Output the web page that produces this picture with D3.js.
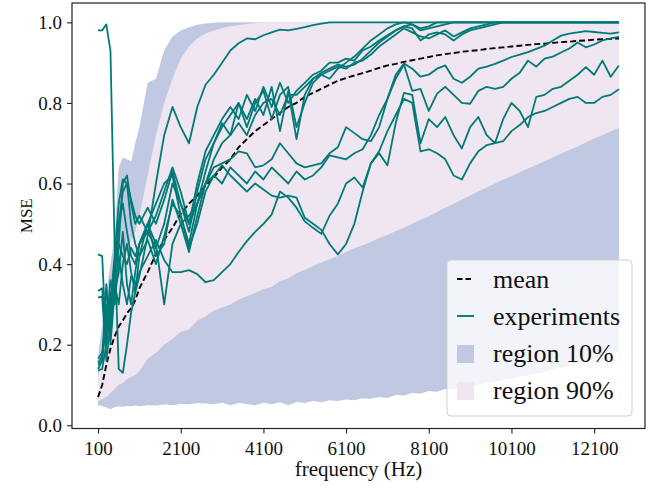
<!DOCTYPE html>
<html>
<head>
<meta charset="utf-8">
<script src="https://cdn.jsdelivr.net/npm/d3@7"></script>
<style>
body{margin:0;background:#fff}
text{font-family:"Liberation Serif","DejaVu Serif",serif;fill:#111}
</style>
</head>
<body>
<div id="chart"></div>
<script>
// frequency grid (Hz): 100 Hz steps at the start, 200 Hz after
const freqs = d3.range(100, 1200, 100).concat(d3.range(1300, 12800, 200));
const xTicks = d3.range(100, 12200, 2000);
const yTicks = [0, 0.2, 0.4, 0.6, 0.8, 1.0];
const legendLabels = ['mean', 'experiments', 'region 10%', 'region 90%'];

const meanMSE = [0.07,0.1,0.15,0.19,0.22,0.245,0.26,0.278,0.29,0.31,0.34,
 0.38,0.425,0.46,0.49,0.525,0.55,0.57,0.595,0.615,0.64,
 0.66,0.69,0.71,0.73,0.745,0.76,0.775,0.79,0.80,0.815,
 0.825,0.835,0.845,0.855,0.862,0.868,0.874,0.88,0.887,0.893,
 0.897,0.902,0.906,0.91,0.914,0.918,0.921,0.924,0.927,0.929,
 0.931,0.934,0.936,0.938,0.94,0.942,0.944,0.946,0.947,0.949,
 0.951,0.952,0.954,0.955,0.957,0.958,0.959,0.96];

const region10Low = [0.05,0.048,0.044,0.04,0.045,0.047,0.046,0.048,0.047,0.049,0.047,
 0.05,0.049,0.052,0.05,0.053,0.052,0.055,0.054,0.052,0.056,
 0.05,0.055,0.053,0.05,0.056,0.052,0.057,0.05,0.058,0.055,
 0.06,0.057,0.062,0.06,0.064,0.062,0.067,0.066,0.07,0.068,
 0.075,0.074,0.08,0.078,0.085,0.083,0.09,0.088,0.095,0.094,
 0.1,0.104,0.108,0.112,0.115,0.12,0.124,0.128,0.133,0.138,
 0.143,0.148,0.154,0.16,0.166,0.172,0.178,0.184];
const region10High = [0.17,0.25,0.33,0.4,0.47,0.64,0.665,0.66,0.655,0.7,0.74,
 0.85,0.86,0.93,0.965,0.98,0.988,0.994,0.997,0.999,1,
 1,1,1,1,1,1,1,1,1,1,
 1,1,1,1,1,1,1,1,1,1,
 1,1,1,1,1,1,1,1,1,1,
 1,1,1,1,1,1,1,1,1,1,
 1,1,1,1,1,1,1,1];
const region90Low = [0.06,0.065,0.07,0.08,0.09,0.1,0.105,0.115,0.12,0.125,0.135,
 0.165,0.18,0.2,0.215,0.232,0.238,0.26,0.27,0.285,0.292,
 0.3,0.312,0.32,0.328,0.338,0.343,0.358,0.364,0.377,0.386,
 0.395,0.404,0.412,0.42,0.43,0.44,0.447,0.455,0.465,0.472,
 0.482,0.49,0.5,0.51,0.518,0.53,0.54,0.55,0.56,0.57,
 0.58,0.59,0.6,0.61,0.618,0.628,0.637,0.646,0.655,0.665,
 0.674,0.683,0.692,0.702,0.712,0.72,0.73,0.738];
const region90High = [0.12,0.17,0.22,0.26,0.3,0.36,0.4,0.44,0.46,0.48,0.52,
 0.62,0.72,0.8,0.86,0.91,0.94,0.96,0.972,0.98,0.986,
 0.99,0.993,0.996,0.998,1,1,1,1,1,1,
 1,1,1,1,1,1,1,1,1,1,
 1,1,1,1,1,1,1,1,1,1,
 1,1,1,1,1,1,1,1,1,1,
 1,1,1,1,1,1,1,1];

const exp1 = [0.98,0.98,0.995,0.93,0.45,0.14,0.13,0.2,0.28,0.33,0.37,
 0.47,0.6,0.72,0.79,0.74,0.70,0.79,0.845,0.87,0.9,
 0.93,0.948,0.96,0.958,0.968,0.975,0.982,0.98,0.984,0.988,
 0.993,0.997,1,1,1,1,1,1,1,1,
 1,1,1,1,1,1,1,1,1,1,
 1,1,1,1,1,1,1,1,1,1,
 1,1,1,1,1,1,1,1];
const exp2 = [0.333,0.34,0.2,0.3,0.42,0.55,0.61,0.6,0.56,0.52,0.5,
 0.54,0.5,0.56,0.63,0.55,0.48,0.58,0.66,0.7,0.74,
 0.77,0.8,0.76,0.81,0.77,0.84,0.73,0.83,0.71,0.82,
 0.86,0.875,0.885,0.895,0.89,0.895,0.91,0.93,0.95,0.965,
 0.98,0.99,0.985,0.955,0.97,0.975,0.97,0.955,0.97,0.98,
 0.985,0.99,0.995,1,1,1,1,1,1,1,
 1,1,1,1,1,1,1,1];
const exp3 = [0.317,0.32,0.16,0.25,0.38,0.5,0.58,0.6,0.5,0.45,0.42,
 0.5,0.55,0.6,0.62,0.52,0.45,0.55,0.63,0.7,0.75,
 0.72,0.8,0.74,0.8,0.83,0.76,0.82,0.84,0.74,0.8,
 0.85,0.87,0.88,0.89,0.885,0.9,0.905,0.92,0.94,0.955,
 0.97,0.985,0.975,0.965,0.96,0.97,0.98,0.965,0.975,0.985,
 0.99,0.995,1,1,1,1,1,1,1,1,
 1,1,1,1,1,1,1,1];
const exp4 = [0.165,0.18,0.24,0.36,0.3,0.45,0.6,0.62,0.55,0.5,0.52,
 0.48,0.52,0.58,0.64,0.58,0.5,0.6,0.68,0.72,0.76,
 0.79,0.76,0.82,0.78,0.84,0.79,0.85,0.8,0.83,0.85,
 0.87,0.88,0.9,0.9,0.91,0.905,0.93,0.94,0.955,0.968,
 0.98,0.99,0.995,0.98,0.985,0.99,0.995,1,1,1,
 1,1,1,1,1,1,1,1,1,1,
 1,1,1,1,1,1,1,1];
const exp5 = [0.14,0.16,0.35,0.2,0.33,0.38,0.48,0.35,0.3,0.38,0.45,
 0.5,0.42,0.45,0.56,0.5,0.43,0.52,0.6,0.66,0.7,
 0.72,0.75,0.72,0.77,0.8,0.81,0.77,0.82,0.82,0.84,
 0.86,0.87,0.86,0.885,0.9,0.915,0.935,0.955,0.97,0.985,
 0.995,1,0.995,0.985,0.99,1,1,1,1,1,
 1,1,1,1,1,1,1,1,1,1,
 1,1,1,1,1,1,1,1];
const exp6 = [0.424,0.42,0.2,0.3,0.38,0.45,0.42,0.4,0.44,0.42,0.45,
 0.48,0.44,0.5,0.6,0.55,0.5,0.55,0.6,0.64,0.65,
 0.66,0.68,0.675,0.64,0.645,0.66,0.7,0.675,0.65,0.64,
 0.645,0.65,0.675,0.69,0.74,0.725,0.71,0.705,0.74,0.81,
 0.87,0.898,0.885,0.865,0.87,0.885,0.893,0.86,0.85,0.865,
 0.885,0.89,0.897,0.905,0.914,0.92,0.926,0.934,0.942,0.955,
 0.967,0.972,0.975,0.978,0.976,0.974,0.972,0.975];
const exp7 = [0.155,0.17,0.28,0.22,0.35,0.3,0.4,0.45,0.38,0.33,0.42,
 0.46,0.4,0.47,0.55,0.52,0.44,0.5,0.58,0.62,0.6,
 0.64,0.62,0.6,0.63,0.61,0.64,0.62,0.6,0.63,0.61,
 0.62,0.64,0.67,0.665,0.66,0.675,0.685,0.72,0.77,0.81,
 0.86,0.895,0.83,0.835,0.78,0.823,0.84,0.82,0.80,0.798,
 0.83,0.84,0.835,0.84,0.86,0.875,0.905,0.89,0.91,0.915,
 0.925,0.935,0.95,0.938,0.945,0.955,0.96,0.964];
const exp8 = [0.136,0.14,0.2,0.33,0.3,0.42,0.35,0.3,0.37,0.35,0.38,
 0.42,0.46,0.41,0.38,0.38,0.385,0.375,0.355,0.36,0.38,
 0.4,0.43,0.457,0.48,0.5,0.523,0.58,0.565,0.54,0.506,
 0.49,0.475,0.52,0.55,0.6,0.615,0.59,0.65,0.675,0.645,
 0.75,0.825,0.82,0.70,0.76,0.74,0.765,0.72,0.687,0.74,
 0.765,0.72,0.70,0.76,0.80,0.78,0.74,0.815,0.82,0.835,
 0.84,0.855,0.87,0.889,0.87,0.905,0.865,0.893];
const exp9 = [0.15,0.16,0.3,0.25,0.4,0.5,0.55,0.48,0.42,0.4,0.45,
 0.5,0.45,0.3,0.45,0.5,0.52,0.55,0.6,0.62,0.645,
 0.62,0.6,0.58,0.6,0.585,0.57,0.565,0.57,0.565,0.515,
 0.5,0.485,0.45,0.424,0.45,0.5,0.58,0.65,0.68,0.73,
 0.77,0.81,0.8,0.68,0.685,0.675,0.66,0.62,0.61,0.65,
 0.68,0.695,0.7,0.705,0.73,0.745,0.765,0.775,0.78,0.79,
 0.80,0.81,0.815,0.80,0.80,0.815,0.82,0.834];
const experiments = [exp1, exp2, exp3, exp4, exp5, exp6, exp7, exp8, exp9];

const W = 650, H = 489;
const mLeft = 72, mRight = 645, mTop = 3, mBottom = 428.5;
const teal = '#017a76', blue = '#c0c9e1', pink = '#f0e6f1';

const x = d3.scaleLinear().domain([100 - 630, 12700 + 630]).range([mLeft, mRight]);
const y = d3.scaleLinear().domain([-0.008, 1.048]).range([mBottom, mTop]);

const svg = d3.select('#chart').append('svg').attr('width', W).attr('height', H);

const band = (lo, hi) => d3.area()
  .x((d, i) => x(freqs[i]))
  .y0((d, i) => y(lo[i]))
  .y1((d, i) => y(hi[i]));

svg.append('path').datum(freqs).attr('d', band(region10Low, region10High)).style('fill', blue);
svg.append('path').datum(freqs).attr('d', band(region90Low, region90High)).style('fill', pink);

const line = d3.line().x((d, i) => x(freqs[i])).y(d => y(d));

svg.append('path').datum(meanMSE).attr('d', line)
  .style('fill', 'none').style('stroke', '#000').style('stroke-width', 1.9).style('stroke-dasharray', '6,3');

svg.selectAll('.exp').data(experiments).enter().append('path').attr('class', 'exp')
  .attr('d', line).style('fill', 'none').style('stroke', teal).style('stroke-width', 1.8)
  .style('stroke-linejoin', 'round');

// axes
const xAxis = svg.append('g').attr('transform', 'translate(0,' + mBottom + ')')
  .call(d3.axisBottom(x).tickValues(xTicks).tickSize(5).tickPadding(8).tickFormat(d3.format('d')));
const yAxis = svg.append('g').attr('transform', 'translate(' + mLeft + ',0)')
  .call(d3.axisLeft(y).tickValues(yTicks).tickSize(5).tickPadding(5).tickFormat(d3.format('.1f')));
[xAxis, yAxis].forEach(g => {
  g.select('.domain').remove();
  g.selectAll('.tick line').style('stroke', '#222').style('stroke-width', 1.1);
  g.selectAll('.tick text').style('font-size', '19px').style('font-family', '"Liberation Serif",serif').style('fill', '#111');
});

svg.append('rect').attr('x', mLeft).attr('y', mTop).attr('width', mRight - mLeft).attr('height', mBottom - mTop)
  .style('fill', 'none').style('stroke', '#222').style('stroke-width', 1.2);

svg.append('text').attr('x', (mLeft + mRight) / 2).attr('y', 476).attr('text-anchor', 'middle')
  .style('font-size', '21px').text('frequency (Hz)');
svg.append('text').attr('transform', 'translate(32,' + (mTop + mBottom) / 2 + ') rotate(-90)')
  .attr('text-anchor', 'middle').style('font-size', '17px').text('MSE');

// legend
const lg = svg.append('g');
lg.append('rect').attr('x', 447).attr('y', 260).attr('width', 185).attr('height', 156).attr('rx', 4)
  .style('fill', '#fff').style('fill-opacity', 0.8).style('stroke', '#d0d0d0');
const baselines = [288, 325, 362, 399];
legendLabels.forEach((lab, i) => {
  const b = baselines[i];
  if (i < 2) {
    lg.append('line').attr('x1', 457).attr('x2', 474).attr('y1', b - 9).attr('y2', b - 9)
      .style('stroke', i === 0 ? '#000' : teal).style('stroke-width', 1.9)
      .style('stroke-dasharray', i === 0 ? '5.5,3' : null);
  } else {
    lg.append('rect').attr('x', 457).attr('y', b - 17).attr('width', 17).attr('height', 18)
      .style('fill', i === 2 ? blue : pink);
  }
  lg.append('text').attr('x', 493).attr('y', b).style('font-size', '26px').text(lab);
});
</script>
</body>
</html>
